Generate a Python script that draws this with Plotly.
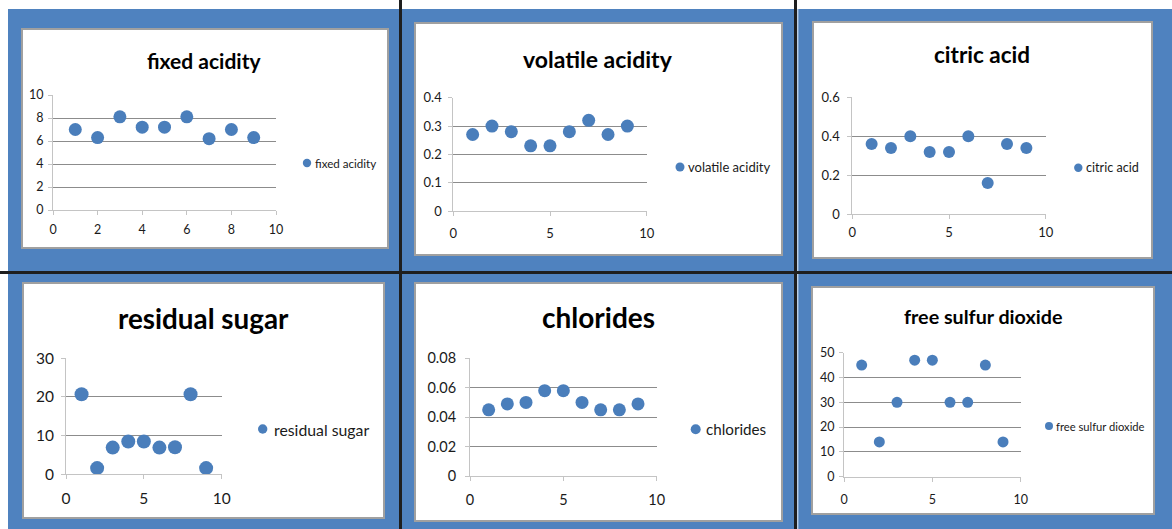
import plotly.graph_objects as go

W, H = 1172, 529

# Wine samples 1-9, one characteristic per chart
sample_no = [1, 2, 3, 4, 5, 6, 7, 8, 9]
fixed_acidity = [7.0, 6.3, 8.1, 7.2, 7.2, 8.1, 6.2, 7.0, 6.3]
volatile_acidity = [0.27, 0.30, 0.28, 0.23, 0.23, 0.28, 0.32, 0.27, 0.30]
citric_acid = [0.36, 0.34, 0.40, 0.32, 0.32, 0.40, 0.16, 0.36, 0.34]
residual_sugar = [20.7, 1.6, 6.9, 8.5, 8.5, 6.9, 7.0, 20.7, 1.6]
chlorides = [0.045, 0.049, 0.050, 0.058, 0.058, 0.050, 0.045, 0.045, 0.049]
free_sulfur_dioxide = [45, 14, 30, 47, 47, 30, 30, 45, 14]

series_names = ["fixed acidity", "volatile acidity", "citric acid",
                "residual sugar", "chlorides", "free sulfur dioxide"]
series_values = [fixed_acidity, volatile_acidity, citric_acid,
                 residual_sugar, chlorides, free_sulfur_dioxide]
y_max = [10, 0.4, 0.6, 30, 0.08, 50]
y_step = [2, 0.1, 0.2, 10, 0.02, 10]
x_step = [2, 5, 5, 5, 5, 5]

BLUE = "#4F82BF"
MARK = "#4A7EBB"
GRID = "#8C8C8C"
AXIS = "#C4C4C4"
FRAME = "#A0A0A0"
FONT = "Lato, sans-serif"

# Pixel layout of each chart card: frame box, plot area, title (x, middle y, size),
# legend key (dot x, y, radius, text x, text size), tick size, marker size,
# tick label standoffs (x, y)
layout_px = [
    dict(box=(22, 29, 388, 248), plot=(53, 95, 276, 210), title=(204, 60.5, 21),
         key=(307, 163, 4.2, 313, 11.6), tick=12.5, msize=13, stand=(4, 2)),
    dict(box=(415, 23, 782, 255), plot=(453.3, 97.7, 646.7, 211), title=(598, 59.5, 23),
         key=(680, 167, 4.5, 686, 13), tick=13, msize=13, stand=(6, 4)),
    dict(box=(813, 22, 1152, 258), plot=(852.3, 97.3, 1045.7, 214.3), title=(981.7, 54.5, 22.5),
         key=(1078.3, 167.7, 4.2, 1084.3, 12.6), tick=13, msize=12, stand=(2, 5)),
    dict(box=(23, 283, 384, 518), plot=(66, 358.3, 221.7, 474.3), title=(203, 318, 27.8),
         key=(262.7, 429, 4.7, 271.7, 15.8), tick=15.5, msize=14, stand=(6, 4)),
    dict(box=(415, 283, 782, 521), plot=(470, 358.3, 656.7, 476), title=(598.3, 316.5, 28),
         key=(695.7, 429.3, 5, 704, 15.2), tick=14.5, msize=13, stand=(7, 6)),
    dict(box=(812, 287, 1154, 514), plot=(844, 352.7, 1020.7, 476.7), title=(983.3, 316.5, 19.7),
         key=(1049, 426, 4, 1054.3, 11.2), tick=12.5, msize=11, stand=(7, 2)),
]


def fx(p):
    return p / W


def fy(p):
    return 1 - p / H


fig = go.Figure()
shapes = []
annotations = []
layout = {}

# blue backdrop and black separators
shapes.append(dict(type="rect", xref="paper", yref="paper", x0=fx(8), x1=1,
                   y0=0, y1=fy(9), fillcolor=BLUE, line_width=0, layer="below"))
for x0, x1 in [(399, 402), (794, 797)]:
    shapes.append(dict(type="rect", xref="paper", yref="paper", x0=fx(x0), x1=fx(x1),
                       y0=0, y1=1, fillcolor="#1E1E1E", line_width=0, layer="below"))
shapes.append(dict(type="line", xref="paper", yref="paper", x0=fx(797.8), x1=fx(797.8),
                   y0=0, y1=fy(9), line=dict(color="#E8EEF6", width=1), layer="below"))
shapes.append(dict(type="rect", xref="paper", yref="paper", x0=0, x1=1,
                   y0=fy(274), y1=fy(271), fillcolor="#1E1E1E", line_width=0, layer="below"))

for i, (name, vals, lp) in enumerate(zip(series_names, series_values, layout_px), start=1):
    bx0, by0, bx1, by1 = lp["box"]
    shapes.append(dict(type="rect", xref="paper", yref="paper", x0=fx(bx0), x1=fx(bx1),
                       y0=fy(by1), y1=fy(by0), fillcolor="white",
                       line=dict(color=FRAME, width=2), layer="below"))

    px0, py0, px1, py1 = lp["plot"]
    sx, sy = lp["stand"]
    tickfont = dict(family=FONT, size=lp["tick"], color="#1A1A1A")
    layout[f"xaxis{i}"] = dict(
        domain=[fx(px0), fx(px1)], range=[0, 10], dtick=x_step[i - 1], tick0=0,
        anchor=f"y{i}", showgrid=False, zeroline=False, showline=True,
        linecolor=AXIS, linewidth=1, ticks="outside", ticklen=4, tickcolor=AXIS,
        tickfont=tickfont, fixedrange=True, ticklabelstandoff=sx, automargin=False)
    layout[f"yaxis{i}"] = dict(
        domain=[fy(py1), fy(py0)], range=[0, y_max[i - 1]], dtick=y_step[i - 1], tick0=0,
        anchor=f"x{i}", showgrid=True, gridcolor=GRID, gridwidth=1, zeroline=False,
        showline=True, linecolor=AXIS, linewidth=1, ticks="outside", ticklen=4,
        tickcolor=AXIS, tickfont=tickfont, fixedrange=True, ticklabelstandoff=sy,
        automargin=False)

    fig.add_trace(go.Scatter(
        x=sample_no, y=vals, mode="markers", name=name, showlegend=False,
        cliponaxis=False, xaxis=f"x{i}", yaxis=f"y{i}",
        marker=dict(size=lp["msize"], color=MARK, line=dict(width=0))))

    tx, tmid, tfs = lp["title"]
    annotations.append(dict(
        text=name, xref="paper", yref="paper", x=fx(tx), y=fy(tmid),
        xanchor="center", yanchor="middle", showarrow=False,
        font=dict(family=FONT, size=tfs, color="black", weight=700)))

    kx, ky, kr, ktx, kfs = lp["key"]
    shapes.append(dict(type="circle", xref="paper", yref="paper",
                       x0=fx(kx - kr), x1=fx(kx + kr), y0=fy(ky + kr), y1=fy(ky - kr),
                       fillcolor=MARK, line_width=0))
    annotations.append(dict(
        text=name, xref="paper", yref="paper", x=fx(ktx), y=fy(ky),
        xanchor="left", yanchor="middle", showarrow=False,
        font=dict(family=FONT, size=kfs, color="#1A1A1A")))

fig.update_layout(
    width=W, height=H, margin=dict(l=0, r=0, t=0, b=0, pad=0, autoexpand=False),
    paper_bgcolor="white", plot_bgcolor="rgba(0,0,0,0)",
    showlegend=False, shapes=shapes, annotations=annotations,
    font=dict(family=FONT), **layout)

fig.write_html("out.html", config={"displayModeBar": False})
